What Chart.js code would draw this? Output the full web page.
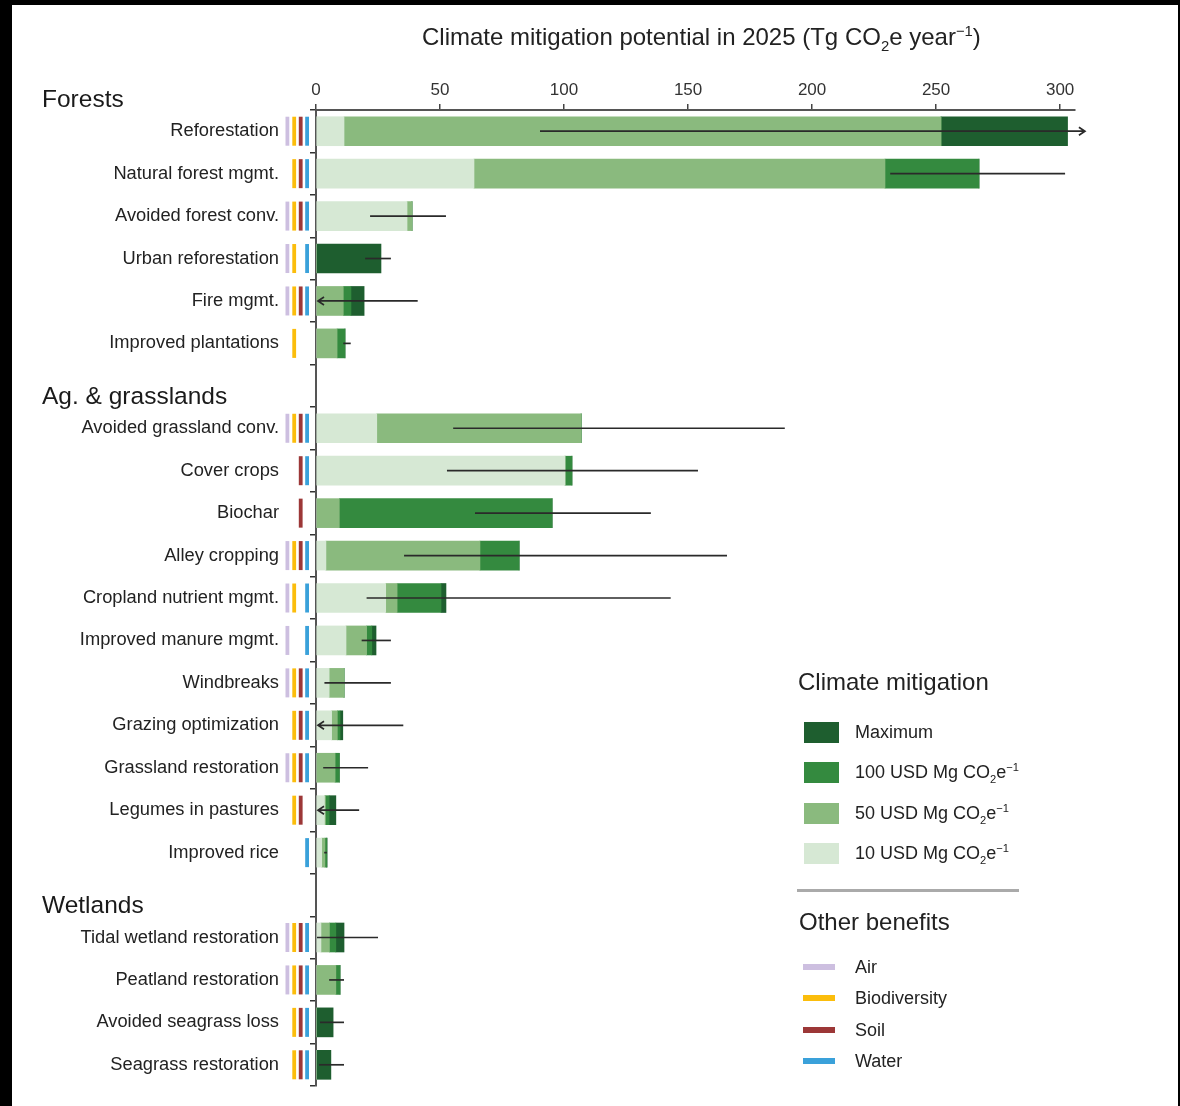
<!DOCTYPE html>
<html>
<head>
<meta charset="utf-8">
<script src="https://cdn.jsdelivr.net/npm/chart.js@4.4.1/dist/chart.umd.min.js"></script>
<style>
  html, body { margin: 0; padding: 0; background: #fff; }
  #wrap { position: relative; width: 1180px; height: 1106px; overflow: hidden; font-family: "Liberation Sans", Arial, sans-serif; color: #222; }
  canvas { position: absolute; left: 0; top: 0; }
  .edge { position: absolute; background: #000; z-index: 5; }
  .title { position: absolute; left: 422px; top: 23px; font-size: 24px; white-space: nowrap; }
  sub, sup { font-size: 62%; line-height: 0; }
  .lg-head { position: absolute; font-size: 24px; white-space: nowrap; }
  .lg-item { position: absolute; left: 855px; font-size: 18px; white-space: nowrap; line-height: 20px; }
  .sw { position: absolute; }
</style>
</head>
<body>
<div id="wrap">
  <!-- canvas is a bit taller than the page: Chart.js reserves room under the last category label -->
  <canvas id="chart" width="1180" height="1128"></canvas>
  <div class="edge" style="left:0;top:0;width:1180px;height:5px"></div>
  <div class="edge" style="left:0;top:0;width:12px;height:1106px"></div>
  <div class="edge" style="left:1178px;top:0;width:2px;height:1106px"></div>

  <div class="title">Climate mitigation potential in 2025 (Tg CO<sub>2</sub>e year<sup>−1</sup>)</div>

  <div class="lg-head" style="left:798px;top:668px">Climate mitigation</div>
  <div id="lg-mit"></div>
  <div class="sw" style="left:797px;top:889px;width:222px;height:3px;background:#aaa"></div>
  <div class="lg-head" style="left:799px;top:908px">Other benefits</div>
  <div id="lg-ben"></div>
</div>

<script>
// ── Data ──────────────────────────────────────────────────
const groupNames = ['Forests', 'Ag. & grasslands', 'Wetlands'];
const groupStart = [0, 7, 19];

const categories = [
  'Reforestation', 'Natural forest mgmt.', 'Avoided forest conv.', 'Urban reforestation',
  'Fire mgmt.', 'Improved plantations', '',
  'Avoided grassland conv.', 'Cover crops', 'Biochar', 'Alley cropping',
  'Cropland nutrient mgmt.', 'Improved manure mgmt.', 'Windbreaks', 'Grazing optimization',
  'Grassland restoration', 'Legumes in pastures', 'Improved rice', '',
  'Tidal wetland restoration', 'Peatland restoration', 'Avoided seagrass loss', 'Seagrass restoration'
];

// cumulative potential at each price (Tg CO2e / yr)
const usd10   = [11.3, 63.7, 36.7, 0, 0, 0, null, 24.5, 100.4, 0, 4, 28.1, 12.1, 5.3, 6.3, 0, 3.4, 2.3, null, 2, 0, 0, 0];
const usd50   = [252, 229.4, 38.7, 0, 11, 8.5, null, 106.9, 100.4, 9.4, 66.1, 32.7, 20.4, 11.3, 8.6, 7.7, 3.8, 3.6, null, 5.4, 8, 0, 0];
const usd100  = [252, 267.3, 38.7, 0, 14.1, 11.7, null, 106.9, 103.2, 95.2, 81.9, 50.4, 22.5, 11.3, 9.7, 9.4, 5.3, 4.3, null, 8, 9.7, 0, 0];
const maximum = [303, 267.3, 38.7, 26.2, 19.4, 11.7, null, 106.9, 103.2, 95.2, 81.9, 52.4, 24.2, 11.3, 10.8, 9.4, 8, 4.5, null, 11.3, 9.7, 6.9, 6];

// uncertainty range (values below 0 or above the axis get an arrow)
const errLow  = [90.3, 231.5, 21.8, 19.8, -10, 11, null, 55.3, 52.8, 64.1, 35.5, 20.4, 18.4, 3.4, -10, 2.9, -10, 3.3, null, 0.4, 5.3, 1.6, 1.2];
const errHigh = [310, 302, 52.4, 30.2, 41, 14, null, 189, 154, 135, 165.7, 143, 30.2, 30.2, 35.2, 21, 17.4, 4.4, null, 25, 11.3, 11.3, 11.3];

// other benefits (1 = yes)
const air          = [1, 0, 1, 1, 1, 0, 0, 1, 0, 0, 1, 1, 1, 1, 0, 1, 0, 0, 0, 1, 1, 0, 0];
const biodiversity = [1, 1, 1, 1, 1, 1, 0, 1, 0, 0, 1, 1, 0, 1, 1, 1, 1, 0, 0, 1, 1, 1, 1];
const soil         = [1, 1, 1, 0, 1, 0, 0, 1, 1, 1, 1, 0, 0, 1, 1, 1, 1, 0, 0, 1, 1, 1, 1];
const water        = [1, 1, 1, 1, 1, 0, 0, 1, 1, 0, 1, 1, 1, 1, 1, 1, 0, 1, 0, 1, 1, 1, 1];

const xTicks = [0, 50, 100, 150, 200, 250, 300];

// ── Styles ────────────────────────────────────────────────
const C_MAX = '#1e5e2f', C_100 = '#348a3f', C_50 = '#8aba7e', C_10 = '#d6e8d4';
const BENEFITS = [
  { name: 'Air',          flags: air,          color: '#cdbfe0' },
  { name: 'Biodiversity', flags: biodiversity, color: '#fbbd0c' },
  { name: 'Soil',         flags: soil,         color: '#9c3737' },
  { name: 'Water',        flags: water,        color: '#3aa1da' }
];

const diff = (a, b) => a.map((v, i) => v == null ? null : +(v - (b ? b[i] : 0)).toFixed(2));

// ── Legend (HTML) ─────────────────────────────────────────
const mitItems = [
  ['Maximum', C_MAX, 722],
  ['100 USD Mg CO<sub>2</sub>e<sup>−1</sup>', C_100, 762],
  ['50 USD Mg CO<sub>2</sub>e<sup>−1</sup>', C_50, 803],
  ['10 USD Mg CO<sub>2</sub>e<sup>−1</sup>', C_10, 843]
];
document.getElementById('lg-mit').innerHTML = mitItems.map(([t, c, y]) =>
  `<div class="sw" style="left:804px;top:${y}px;width:35px;height:21px;background:${c}"></div>
   <div class="lg-item" style="top:${y}px">${t}</div>`).join('');

const benY = [967, 998, 1030, 1061];
document.getElementById('lg-ben').innerHTML = BENEFITS.map((b, i) =>
  `<div class="sw" style="left:803px;top:${benY[i] - 3}px;width:32px;height:6px;background:${b.color}"></div>
   <div class="lg-item" style="top:${benY[i] - 10}px">${b.name}</div>`).join('');

// ── Plugins ───────────────────────────────────────────────
const extras = {
  id: 'extras',
  afterDatasetsDraw(chart) {
    const { ctx } = chart;
    const x = chart.scales.x, y = chart.scales.y;

    // benefit markers
    const bx = [285.5, 292.3, 298.8, 305.2];
    categories.forEach((c, i) => {
      if (!c) return;
      const cy = y.getPixelForValue(i);
      BENEFITS.forEach((b, k) => {
        if (!b.flags[i]) return;
        ctx.fillStyle = b.color;
        ctx.fillRect(bx[k], cy - 14.5, 3.8, 29);
      });
    });

    // error bars
    ctx.save();
    ctx.strokeStyle = '#2a2a2a';
    ctx.lineWidth = 1.7;
    errLow.forEach((lo, i) => {
      if (lo == null) return;
      const cy = y.getPixelForValue(i);
      const hi = errHigh[i];
      const leftArrow = lo < x.min;
      const rightArrow = hi > x.max;
      const x0 = leftArrow ? x.getPixelForValue(x.min) + 2 : x.getPixelForValue(lo);
      const x1 = x.getPixelForValue(hi);
      ctx.beginPath();
      ctx.moveTo(x0, cy); ctx.lineTo(x1, cy);
      if (leftArrow) { ctx.moveTo(x0 + 6, cy - 4); ctx.lineTo(x0, cy); ctx.lineTo(x0 + 6, cy + 4); }
      if (rightArrow) { ctx.moveTo(x1 - 6, cy - 4); ctx.lineTo(x1, cy); ctx.lineTo(x1 - 6, cy + 4); }
      ctx.stroke();
    });
    ctx.restore();

    // group headers
    ctx.save();
    ctx.fillStyle = '#1a1a1a';
    ctx.font = '24.5px "Liberation Sans", Arial, sans-serif';
    ctx.textBaseline = 'middle';
    ctx.textAlign = 'left';
    groupNames.forEach((g, k) => {
      ctx.fillText(g, 42, y.getPixelForValue(groupStart[k]) - 31);
    });
    ctx.restore();
  }
};

// ── Chart ─────────────────────────────────────────────────
const mk = (label, data, color) => ({
  label, data, backgroundColor: color, borderWidth: 0, barThickness: 29, stack: 's'
});

new Chart(document.getElementById('chart'), {
  type: 'bar',
  data: {
    labels: categories,
    datasets: [
      mk('10 USD', diff(usd10), C_10),
      mk('50 USD', diff(usd50, usd10), C_50),
      mk('100 USD', diff(usd100, usd50), C_100),
      mk('Maximum', diff(maximum, usd100), C_MAX)
    ]
  },
  options: {
    indexAxis: 'y',
    responsive: false,
    animation: false,
    layout: { padding: { top: 0, right: 105, bottom: 0, left: 0 } },
    plugins: { legend: { display: false }, tooltip: { enabled: false } },
    scales: {
      x: {
        position: 'top',
        stacked: true,
        min: 0,
        max: 306,
        afterFit: s => { s.height = 110; },
        afterBuildTicks: s => { s.ticks = xTicks.map(v => ({ value: v })); },
        ticks: {
          color: '#333',
          padding: 3,
          font: { family: '"Liberation Sans", sans-serif', size: 17 }
        },
        grid: { drawOnChartArea: false, drawTicks: true, tickLength: 6, color: '#444', lineWidth: 1.5 },
        border: { display: true, color: '#555', width: 2 }
      },
      y: {
        stacked: true,
        afterFit: s => { s.width = 316; },
        ticks: {
          color: '#222',
          padding: 31,
          autoSkip: false,
          font: { family: '"Liberation Sans", Arial, sans-serif', size: 18.3 }
        },
        grid: { offset: true, drawOnChartArea: false, drawTicks: true, tickLength: 6, color: '#333', lineWidth: 1.5 },
        border: { display: true, color: '#555', width: 2 }
      }
    }
  },
  plugins: [extras]
});
</script>
</body>
</html>
